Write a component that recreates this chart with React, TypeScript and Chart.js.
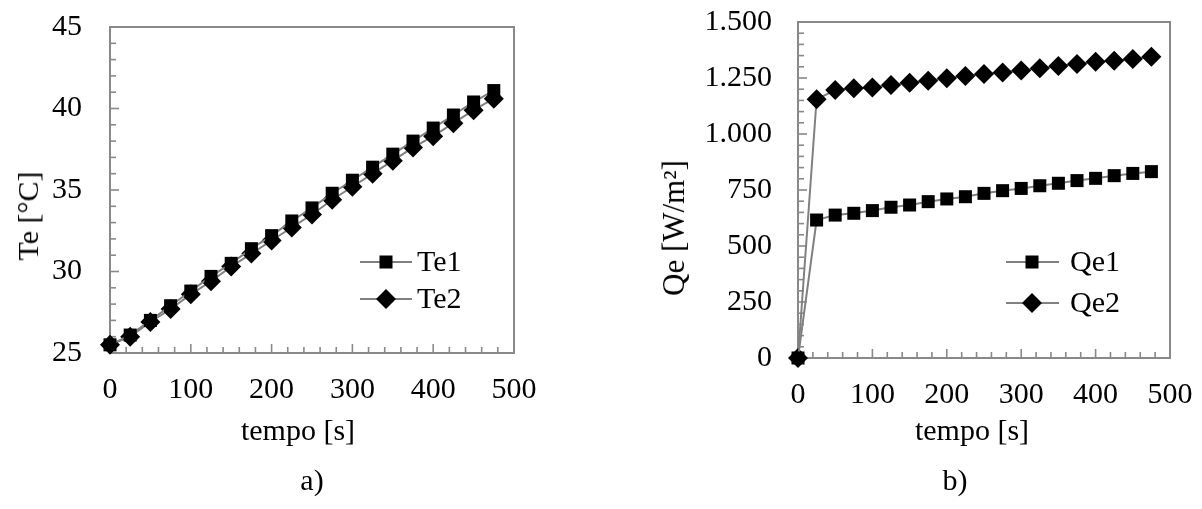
import React, { useEffect, useRef } from "react";
import { Chart, registerables } from "chart.js";

Chart.register(...registerables);

const time = [0, 25, 50, 75, 100, 125, 150, 175, 200, 225, 250, 275, 300, 325, 350, 375, 400, 425, 450, 475];
const te1 = [25.5, 26.1, 27.0, 27.9, 28.8, 29.7, 30.5, 31.4, 32.2, 33.1, 33.9, 34.8, 35.6, 36.4, 37.2, 38.0, 38.8, 39.6, 40.4, 41.1];
const te2 = [25.5, 26.0, 26.9, 27.7, 28.6, 29.4, 30.3, 31.1, 31.9, 32.7, 33.5, 34.4, 35.2, 36.0, 36.8, 37.6, 38.3, 39.1, 39.9, 40.6];
const qe1 = [0, 616, 638, 646, 658, 673, 683, 698, 710, 720, 735, 747, 757, 769, 780, 792, 802, 814, 824, 832];
const qe2 = [0, 1155, 1196, 1204, 1208, 1219, 1229, 1238, 1249, 1259, 1268, 1275, 1283, 1293, 1304, 1312, 1323, 1327, 1335, 1345];

const leftLabels = ["Te1", "Te2"];
const rightLabels = ["Qe1", "Qe2"];
const xTitle = "tempo [s]";
const leftYTitle = "Te [°C]";
const rightYTitle = "Qe [W/m²]";
const captions = ["a)", "b)"];

const FONT = "'Liberation Serif', 'Times New Roman', serif";
const GREY = "#898989";
const LINE = "#808080";

function fmtThousands(v: number): string {
  if (Math.abs(v) >= 1000) {
    const t = Math.floor(v / 1000);
    const r = String(Math.round(v % 1000)).padStart(3, "0");
    return `${t}.${r}`;
  }
  return String(v);
}

function drawMarker(ctx: CanvasRenderingContext2D, style: string, x: number, y: number, r: number) {
  ctx.beginPath();
  if (style === "rect") {
    const s = Math.SQRT1_2 * r;
    ctx.rect(x - s, y - s, 2 * s, 2 * s);
  } else {
    ctx.moveTo(x, y - r);
    ctx.lineTo(x + r, y);
    ctx.lineTo(x, y + r);
    ctx.lineTo(x - r, y);
    ctx.closePath();
  }
  ctx.fillStyle = "#000";
  ctx.fill();
}

const framePlugin = {
  id: "frameTicks",
  beforeDatasetsDraw(chart: any, _args: any, opts: any) {
    const { ctx, chartArea: a, scales } = chart;
    const xs = scales.x;
    const ys = scales.y;
    ctx.save();
    ctx.strokeStyle = GREY;
    ctx.lineWidth = 1.6;
    const seg = (x1: number, y1: number, x2: number, y2: number) => {
      ctx.beginPath();
      ctx.moveTo(x1, y1);
      ctx.lineTo(x2, y2);
      ctx.stroke();
    };
    for (let v = xs.min; v <= xs.max + 1e-9; v += opts.xMinor) {
      const px = xs.getPixelForValue(v);
      const major = Math.abs(v % opts.xMajor) < 1e-6;
      seg(px, a.bottom, px, a.bottom - (major ? 9 : 6));
    }
    for (let v = ys.min; v <= ys.max + 1e-9; v += opts.yMinor) {
      const py = ys.getPixelForValue(v);
      const major = Math.abs(v % opts.yMajor) < 1e-6;
      seg(a.left, py, a.left + (major ? 9 : 6), py);
    }
    ctx.lineWidth = 2;
    ctx.strokeRect(a.left, a.top, a.right - a.left, a.bottom - a.top);
    ctx.restore();
  },
};

const legendPlugin = {
  id: "innerLegend",
  afterDatasetsDraw(chart: any, _args: any, opts: any) {
    const { ctx, chartArea: a } = chart;
    ctx.save();
    chart.data.datasets.forEach((ds: any, i: number) => {
      const y = opts.rows[i];
      ctx.strokeStyle = LINE;
      ctx.lineWidth = 2;
      ctx.beginPath();
      ctx.moveTo(a.left + opts.x1, y);
      ctx.lineTo(a.left + opts.x2, y);
      ctx.stroke();
      drawMarker(ctx, ds.pointStyle, a.left + opts.mx, y, ds.pointRadius);
      ctx.fillStyle = "#000";
      ctx.font = `30px ${FONT}`;
      ctx.textAlign = "left";
      ctx.textBaseline = "middle";
      ctx.fillText(ds.label, a.left + opts.tx, y + 1);
    });
    ctx.restore();
  },
};

function makeConfig(
  labels: string[],
  s1: number[],
  s2: number[],
  yMin: number,
  yMax: number,
  yStep: number,
  yMinor: number,
  yWidth: number,
  yPad: number,
  padding: any,
  legend: any,
  fmt: (v: number) => string
): any {
  const pts = (s: number[]) => time.map((t, i) => ({ x: t, y: s[i] }));
  const dsBase = {
    borderColor: LINE,
    borderWidth: 2,
    pointBackgroundColor: "#000",
    pointBorderColor: "#000",
    pointBorderWidth: 0,
    showLine: true,
    tension: 0,
    clip: false,
  };
  return {
    type: "scatter",
    data: {
      datasets: [
        { ...dsBase, label: labels[0], data: pts(s1), pointStyle: "rect", pointRadius: 9.2 },
        { ...dsBase, label: labels[1], data: pts(s2), pointStyle: "rectRot", pointRadius: 10 },
      ],
    },
    options: {
      responsive: false,
      animation: false,
      devicePixelRatio: 1,
      layout: { padding },
      plugins: {
        legend: { display: false },
        tooltip: { enabled: false },
        frameTicks: { xMinor: 20, xMajor: 100, yMinor, yMajor: yStep },
        innerLegend: legend,
      },
      scales: {
        x: {
          type: "linear",
          min: 0,
          max: 500,
          grid: { display: false, drawTicks: false },
          border: { display: false },
          ticks: { stepSize: 100, color: "#000", font: { family: FONT, size: 30 }, padding: 19, maxRotation: 0 },
          afterFit: (s: any) => {
            s.height = 60;
            s.paddingLeft = 0;
            s.paddingRight = 0;
          },
        },
        y: {
          type: "linear",
          min: yMin,
          max: yMax,
          grid: { display: false, drawTicks: false },
          border: { display: false },
          ticks: { stepSize: yStep, color: "#000", font: { family: FONT, size: 30 }, padding: yPad, callback: (v: any) => fmt(Number(v)) },
          afterFit: (s: any) => {
            s.width = yWidth;
            s.paddingTop = 0;
            s.paddingBottom = 0;
          },
        },
      },
    },
    plugins: [framePlugin, legendPlugin],
  };
}

function Panel(props: { cfg: any; left: number; width: number; height: number }) {
  const ref = useRef<HTMLCanvasElement | null>(null);
  useEffect(() => {
    if (!ref.current) return;
    const chart = new Chart(ref.current, props.cfg);
    return () => chart.destroy();
  }, []);
  return (
    <canvas
      ref={ref}
      width={props.width}
      height={props.height}
      style={{ position: "absolute", left: props.left, top: 0, width: props.width, height: props.height }}
    />
  );
}

const textStyle: React.CSSProperties = {
  position: "absolute",
  fontFamily: FONT,
  fontSize: 30,
  color: "#000",
  whiteSpace: "nowrap",
  lineHeight: "30px",
};

function Label(props: { text: string; cx: number; cy: number; rotate?: boolean; size?: number }) {
  return (
    <div
      style={{
        ...textStyle,
        fontSize: props.size ?? 30,
        left: props.cx,
        top: props.cy,
        transform: `translate(-50%, -50%)${props.rotate ? " rotate(-90deg)" : ""}`,
      }}
    >
      {props.text}
    </div>
  );
}

export default function App() {
  // left canvas: 0..600, chart area 110..514 x, 27..353 y
  const leftCfg = makeConfig(
    leftLabels, te1, te2, 25, 45, 5, 1, 110, 28,
    { left: 0, top: 27, right: 600 - 514, bottom: 509 - 353 - 60 },
    { x1: 250, x2: 302, mx: 276, tx: 307, rows: [262, 299] },
    (v) => String(v)
  );
  // right canvas: 600..1202, chart area 798..1170 x, 22..358 y
  const rightCfg = makeConfig(
    rightLabels, qe1, qe2, 0, 1500, 250, 50, 198, 26,
    { left: 0, top: 22, right: 1202 - 1170, bottom: 509 - 358 - 60 },
    { x1: 208, x2: 261, mx: 234, tx: 272, rows: [262, 303] },
    fmtThousands
  );
  return (
    <div style={{ position: "absolute", left: 0, top: 0, width: 1202, height: 509, overflow: "hidden", background: "#fff" }}>
      <Panel cfg={leftCfg} left={0} width={600} height={509} />
      <Panel cfg={rightCfg} left={600} width={602} height={509} />
      <Label text={leftYTitle} cx={28} cy={216} rotate />
      <Label text={rightYTitle} cx={674} cy={228} rotate size={31} />
      <Label text={xTitle} cx={298} cy={430} />
      <Label text={xTitle} cx={972} cy={430} />
      <Label text={captions[0]} cx={312} cy={480} />
      <Label text={captions[1]} cx={955} cy={480} />
    </div>
  );
}
